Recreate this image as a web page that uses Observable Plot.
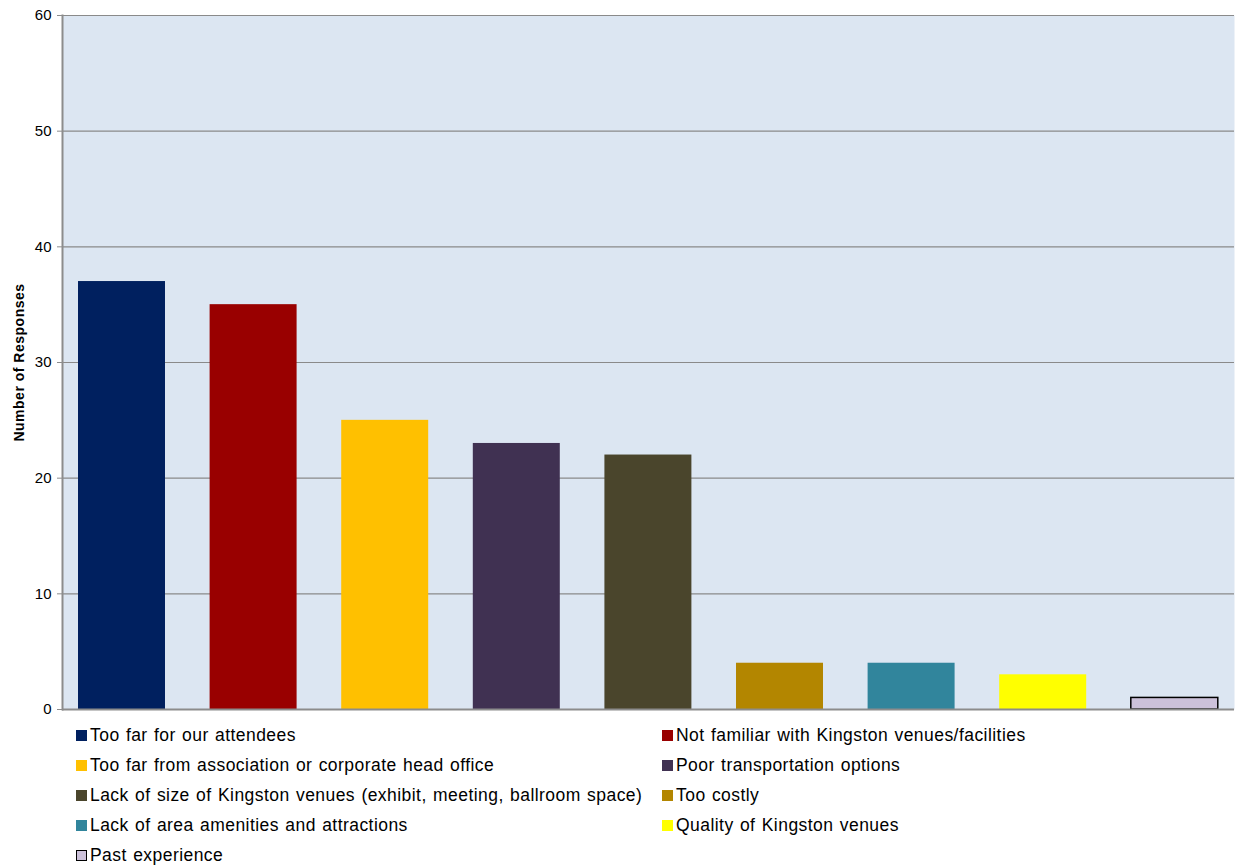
<!DOCTYPE html>
<html>
<head>
<meta charset="utf-8">
<script src="https://cdn.jsdelivr.net/npm/d3@7"></script>
<script src="https://cdn.jsdelivr.net/npm/@observablehq/plot@0.6"></script>
<style>
  html, body { margin: 0; padding: 0; background: #fff; }
  #chart { position: relative; width: 1238px; height: 865px; font-family: "Liberation Sans", Arial, sans-serif; }
  #legend { position: absolute; left: 0; top: 720px; width: 1238px; }
  .item { position: absolute; height: 30px; display: flex; align-items: center; font-size: 17.5px; letter-spacing: 0.45px; word-spacing: 1px; color: #000; white-space: nowrap; }
  .sw { width: 11px; height: 11px; margin-right: 3px; box-sizing: border-box; }
  .ylab { letter-spacing: 0.5px; }
</style>
</head>
<body>
<div id="chart"></div>
<script>
const categories = [
  "Too far for our attendees",
  "Not familiar with Kingston venues/facilities",
  "Too far from association or corporate head office",
  "Poor transportation options",
  "Lack of size of Kingston venues (exhibit, meeting, ballroom space)",
  "Too costly",
  "Lack of area amenities and attractions",
  "Quality of Kingston venues",
  "Past experience"
];
const values = [37, 35, 25, 23, 22, 4, 4, 3, 1];
const colors = ["#00205F", "#990000", "#FFC000", "#403152", "#4A452C", "#B38600", "#31859C", "#FFFF00", "#CCC1DA"];
const outlines = ["none", "none", "none", "none", "none", "none", "none", "none", "#000000"];
const yTicks = [0, 10, 20, 30, 40, 50, 60];
const yLabel = "Number of Responses";

const data = categories.map((c, i) => ({category: c, value: values[i], color: colors[i], outline: outlines[i]}));

const chart = Plot.plot({
  width: 1238,
  height: 720,
  marginLeft: 62,
  marginRight: 4,
  marginTop: 15,
  marginBottom: 11,
  style: {fontFamily: "'Liberation Sans', Arial, sans-serif", fontSize: "15px", background: "transparent", color: "#000"},
  x: {domain: categories, range: [55.7, 1240.1], paddingInner: 0.339, paddingOuter: 0.1695, round: false, axis: null},
  y: {domain: [0, 60], axis: null},
  marks: [
    Plot.frame({fill: "#DCE6F2", stroke: null}),
    Plot.ruleY(yTicks.filter(d => d > 0), {stroke: "#8a8a8a", strokeWidth: 1.2}),
    Plot.barY(data, {x: "category", y: "value", fill: "color", stroke: "outline", strokeWidth: 1.5}),
    Plot.ruleY([0], {stroke: "#8c8c8c", strokeWidth: 2}),
    Plot.axisY({ticks: yTicks, tickSize: 5, tickPadding: 6, stroke: "#8c8c8c", label: null, fill: "#000"}),
    Plot.frame({anchor: "left", stroke: "#8c8c8c", strokeWidth: 2}),
    Plot.text([yLabel], {frameAnchor: "left", textAnchor: "middle", rotate: -90, dx: -43, fontWeight: "bold", fontSize: 14, fill: "#000", className: "ylab"})
  ]
});
document.getElementById("chart").appendChild(chart);

const legend = document.createElement("div");
legend.id = "legend";
data.forEach((d, i) => {
  const col = i % 2, row = Math.floor(i / 2);
  const item = document.createElement("div");
  item.className = "item";
  item.style.left = (col === 0 ? 76 : 662) + "px";
  item.style.top = (row * 30) + "px";
  const sw = document.createElement("div");
  sw.className = "sw";
  sw.style.background = d.color;
  if (d.outline !== "none") sw.style.border = "1.5px solid " + d.outline;
  const t = document.createElement("span");
  t.textContent = d.category;
  item.appendChild(sw);
  item.appendChild(t);
  legend.appendChild(item);
});
document.getElementById("chart").appendChild(legend);
</script>
</body>
</html>
